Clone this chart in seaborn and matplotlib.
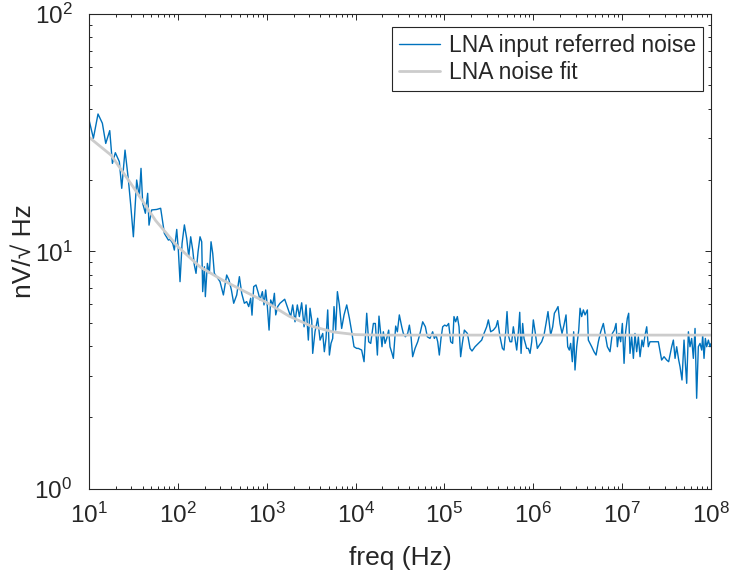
import numpy as np
import pandas as pd
import matplotlib
matplotlib.use("Agg")
import matplotlib.pyplot as plt
import seaborn as sns
from matplotlib.ticker import FixedLocator, NullFormatter

# ---------------- data (log10 values) ----------------
# LNA input referred noise: log10(freq / Hz)
freq_exp = [
    1.000, 1.049, 1.101, 1.150, 1.188, 1.233, 1.263, 1.296, 1.341, 1.368,
    1.405, 1.443, 1.469, 1.499, 1.536, 1.566, 1.585, 1.604, 1.634, 1.660,
    1.675, 1.705, 1.761, 1.806, 1.848, 1.893,
    1.912, 1.942, 1.960, 1.987, 2.005, 2.024, 2.047, 2.073, 2.099, 2.122,
    2.144, 2.167, 2.185, 2.204, 2.227, 2.249, 2.268, 2.279, 2.298, 2.309,
    2.332, 2.354, 2.373, 2.392, 2.410, 2.437, 2.474, 2.512, 2.549, 2.575,
    2.602, 2.628, 2.662, 2.692, 2.718, 2.748, 2.774, 2.797, 2.819, 2.834,
    2.853, 2.879, 2.906,
    2.924, 2.951, 2.969, 2.988, 3.007, 3.026, 3.044, 3.067, 3.086, 3.101,
    3.123, 3.149, 3.202, 3.243, 3.269, 3.292, 3.318, 3.344, 3.367, 3.393,
    3.420, 3.442, 3.468, 3.487, 3.506, 3.517, 3.543, 3.573, 3.600, 3.630,
    3.648, 3.667, 3.686, 3.705, 3.723, 3.742, 3.757, 3.776, 3.795, 3.817,
    3.843, 3.870, 3.900, 3.930, 3.956, 3.982, 4.012,
    4.031, 4.068, 4.095, 4.125, 4.147, 4.170, 4.200, 4.222, 4.245, 4.263,
    4.282, 4.297, 4.312, 4.331, 4.350, 4.372, 4.387, 4.410, 4.425, 4.451,
    4.470, 4.492, 4.519, 4.537, 4.560, 4.586, 4.605, 4.624, 4.642, 4.669,
    4.699, 4.725, 4.755, 4.785, 4.807, 4.837, 4.867, 4.886, 4.905, 4.924,
    4.942, 4.961, 4.980, 5.002, 5.025, 5.047, 5.070, 5.092, 5.107, 5.126,
    5.145, 5.164, 5.182, 5.201, 5.224,
    5.258, 5.288, 5.310, 5.344, 5.381, 5.419, 5.445, 5.475, 5.494, 5.520,
    5.550, 5.580, 5.599, 5.625, 5.652, 5.670, 5.689, 5.704, 5.719, 5.738,
    5.757, 5.775, 5.794, 5.813, 5.832, 5.847, 5.862, 5.880, 5.895, 5.910,
    5.925, 5.944, 5.963, 5.982, 6.000, 6.023, 6.045, 6.068, 6.094, 6.120,
    6.143, 6.165, 6.180, 6.195, 6.218, 6.237, 6.259, 6.278, 6.300, 6.323,
    6.345, 6.368, 6.387, 6.405, 6.420, 6.439, 6.454, 6.469, 6.488, 6.511,
    6.526, 6.544, 6.563,
    6.582, 6.608, 6.619, 6.657, 6.683, 6.706, 6.732, 6.758, 6.788, 6.811,
    6.833, 6.863, 6.889, 6.912, 6.931, 6.946, 6.964, 6.983, 7.002, 7.021,
    7.039, 7.058, 7.073, 7.088, 7.107, 7.126, 7.144, 7.163, 7.182, 7.201,
    7.223, 7.238, 7.257, 7.276, 7.294, 7.313, 7.351, 7.407, 7.444, 7.471,
    7.501, 7.523, 7.538, 7.557, 7.576, 7.595, 7.613, 7.636, 7.651, 7.673,
    7.696, 7.711, 7.726, 7.745, 7.763, 7.782, 7.801, 7.820, 7.838, 7.857,
    7.876, 7.895, 7.906, 7.921, 7.936, 7.951, 7.970, 7.988, 8.000,
]
# LNA input referred noise: log10(nV/sqrt(Hz))
noise_exp = [
    1.554, 1.477, 1.579, 1.540, 1.455, 1.509, 1.371, 1.416, 1.378, 1.266,
    1.427, 1.301, 1.196, 1.062, 1.301, 1.231, 1.350, 1.203, 1.161, 1.245,
    1.111, 1.175, 1.177, 1.182, 1.076, 1.048,
    1.051, 1.034, 1.006, 1.093, 1.006, 0.873, 1.034, 1.112, 1.055, 0.978,
    1.062, 1.006, 0.943, 0.908, 0.999, 1.062, 1.041, 0.831, 0.936, 0.810,
    0.950, 0.908, 1.041, 0.992, 0.908, 0.894, 0.873, 0.817, 0.901, 0.880,
    0.838, 0.782, 0.817, 0.894, 0.824, 0.782, 0.789, 0.768, 0.803, 0.732,
    0.852, 0.859, 0.824,
    0.796, 0.831, 0.775, 0.838, 0.768, 0.669, 0.796, 0.775, 0.824, 0.733,
    0.768, 0.782, 0.799, 0.754, 0.726, 0.775, 0.704, 0.775, 0.726, 0.784,
    0.683, 0.775, 0.627, 0.761, 0.711, 0.571, 0.662, 0.719, 0.627, 0.655,
    0.578, 0.634, 0.754, 0.564, 0.613, 0.634, 0.768, 0.669, 0.831, 0.775,
    0.676, 0.733, 0.775, 0.719, 0.662, 0.599, 0.592,
    0.592, 0.585, 0.536, 0.740, 0.620, 0.613, 0.697, 0.697, 0.564, 0.728,
    0.655, 0.599, 0.662, 0.613, 0.634, 0.669, 0.599, 0.571, 0.550, 0.686,
    0.662, 0.733, 0.683, 0.655, 0.641, 0.655, 0.690, 0.641, 0.557, 0.592,
    0.620, 0.655, 0.704, 0.683, 0.641, 0.634, 0.662, 0.634, 0.648, 0.620,
    0.564, 0.634, 0.683, 0.690, 0.686, 0.697, 0.620, 0.613, 0.726, 0.704,
    0.726, 0.683, 0.557, 0.613, 0.669,
    0.655, 0.592, 0.581, 0.599, 0.613, 0.627, 0.655, 0.683, 0.712, 0.662,
    0.669, 0.683, 0.709, 0.641, 0.592, 0.585, 0.662, 0.747, 0.648, 0.620,
    0.620, 0.683, 0.634, 0.585, 0.662, 0.744, 0.571, 0.697, 0.634, 0.613,
    0.592, 0.592, 0.571, 0.620, 0.712, 0.655, 0.592, 0.606, 0.620, 0.648,
    0.697, 0.747, 0.697, 0.648, 0.683, 0.740, 0.754, 0.768, 0.697, 0.655,
    0.690, 0.733, 0.599, 0.585, 0.613, 0.536, 0.662, 0.501, 0.599, 0.669,
    0.761, 0.726, 0.754,
    0.733, 0.754, 0.627, 0.599, 0.578, 0.564, 0.620, 0.662, 0.697, 0.648,
    0.599, 0.578, 0.655, 0.669, 0.697, 0.599, 0.655, 0.620, 0.697, 0.529,
    0.662, 0.719, 0.740, 0.571, 0.641, 0.550, 0.655, 0.578, 0.641, 0.557,
    0.627, 0.599, 0.648, 0.683, 0.599, 0.620, 0.620, 0.620, 0.543, 0.557,
    0.543, 0.536, 0.564, 0.599, 0.627, 0.550, 0.599, 0.543, 0.515, 0.459,
    0.627, 0.529, 0.445, 0.662, 0.599, 0.634, 0.550, 0.676, 0.382, 0.599,
    0.613, 0.585, 0.648, 0.550, 0.634, 0.599, 0.627, 0.599, 0.613,
]

# LNA noise fit
fit_freq_exp = [1.0, 1.25, 1.5, 1.75, 2.0, 2.25, 2.5, 2.75, 3.0, 3.25,
                3.5, 3.75, 4.0, 4.25, 4.5, 5.0, 6.0, 7.0, 8.0]
fit_noise_exp = [1.481, 1.405, 1.270, 1.130, 1.020, 0.935, 0.880, 0.832,
                 0.785, 0.728, 0.686, 0.661, 0.650, 0.648, 0.648, 0.648,
                 0.648, 0.648, 0.648]

# axis tick decades
x_tick_exp = [1, 2, 3, 4, 5, 6, 7, 8]
y_tick_exp = [0, 1, 2]

series_labels = ["LNA input referred noise", "LNA noise fit"]
x_label = "freq (Hz)"
y_label = "nV/\u221a Hz"

# ---------------- build data frames ----------------
noise_df = pd.DataFrame({"freq": 10.0 ** np.array(freq_exp),
                         "val": 10.0 ** np.array(noise_exp)})
fit_df = pd.DataFrame({"freq": 10.0 ** np.array(fit_freq_exp),
                       "val": 10.0 ** np.array(fit_noise_exp)})

# ---------------- style ----------------
sns.set_style("ticks")
plt.rcParams["font.family"] = ["Liberation Sans", "DejaVu Sans"]
plt.rcParams["mathtext.fontset"] = "custom"
plt.rcParams["mathtext.rm"] = "Liberation Sans"
plt.rcParams["mathtext.it"] = "Liberation Sans"
plt.rcParams["mathtext.default"] = "regular"

axis_color = "#262626"

fig = plt.figure(figsize=(7.31, 5.74), dpi=100)
ax = fig.add_axes([0.1218, 0.1481, 0.8509, 0.8275])

sns.lineplot(data=noise_df, x="freq", y="val", ax=ax, color="#0072BD",
             linewidth=1.0, label=series_labels[0], estimator=None, sort=False)
sns.lineplot(data=fit_df, x="freq", y="val", ax=ax, color="#CCCCCC",
             linewidth=2.0, label=series_labels[1], estimator=None, sort=False)

ax.set_xscale("log")
ax.set_yscale("log")
ax.set_xlim(1e1, 1e8)
ax.set_ylim(1e0, 1e2)

# major ticks only at the visible decades, minor ticks inside each decade
x_major = [10.0 ** e for e in x_tick_exp]
y_major = [10.0 ** e for e in y_tick_exp]
ax.xaxis.set_major_locator(FixedLocator(x_major))
ax.yaxis.set_major_locator(FixedLocator(y_major))
ax.set_xticklabels([f"$10^{{{e}}}$" for e in x_tick_exp])
ax.set_yticklabels([f"$10^{{{e}}}$" for e in y_tick_exp])
x_minor = [m * v for v in x_major[:-1] for m in range(2, 10)]
y_minor = [m * v for v in y_major[:-1] for m in range(2, 10)]
ax.xaxis.set_minor_locator(FixedLocator(x_minor))
ax.yaxis.set_minor_locator(FixedLocator(y_minor))
ax.xaxis.set_minor_formatter(NullFormatter())
ax.yaxis.set_minor_formatter(NullFormatter())

for sp in ax.spines.values():
    sp.set_visible(True)
    sp.set_color(axis_color)
    sp.set_linewidth(0.8)

ax.tick_params(which="both", direction="in", top=True, right=True,
               color=axis_color, width=0.7)
ax.tick_params(which="major", length=4.0, labelsize=17.5, labelcolor=axis_color)
ax.tick_params(which="minor", length=2.2)
ax.tick_params(axis="x", which="major", pad=10)
ax.tick_params(axis="y", which="major", pad=12)

ax.set_xlabel(x_label, fontsize=19, color=axis_color)
ax.set_ylabel(y_label, fontsize=19, color=axis_color)
ax.xaxis.set_label_coords(0.5, -0.12)
ax.yaxis.set_label_coords(-0.085, 0.5)

leg = ax.legend(loc="upper right", bbox_to_anchor=(0.987, 0.973),
                borderaxespad=0, fancybox=False, edgecolor=axis_color,
                framealpha=1, fontsize=16.5, handlelength=1.8,
                labelspacing=0.2, borderpad=0.3, handletextpad=0.4)
leg.get_frame().set_linewidth(0.8)
for t in leg.get_texts():
    t.set_color(axis_color)

fig.savefig("out.png", dpi=100)
